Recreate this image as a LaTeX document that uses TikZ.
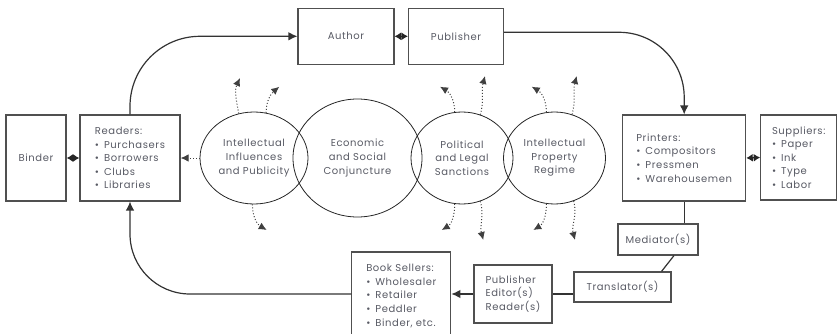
\documentclass[tikz,border=0pt]{standalone}
\usepackage{fontspec}
\setmainfont{Poppins}[LetterSpace=6]
\usetikzlibrary{shapes.geometric,arrows.meta}
\definecolor{txtgray}{RGB}{88,90,100}
\definecolor{linegray}{RGB}{80,80,80}
\tikzset{
  box/.style={draw=linegray,line width=1.1pt,align=left,text=txtgray,
    font=\fontsize{10}{13.6}\selectfont,inner sep=0pt},
  circ/.style={ellipse,draw=black!85,line width=0.8pt,align=center,text=txtgray,
    font=\fontsize{10}{13.6}\selectfont,inner sep=0pt},
  flow/.style={draw=black!80,line width=1.2pt,-{Latex[length=9pt,width=8.5pt]}},
  both/.style={draw=black!85,line width=1.2pt,
    {Latex[length=6.5pt,width=8pt]}-{Latex[length=6.5pt,width=8pt]}},
  link/.style={draw=black!80,line width=1.2pt},
  infl/.style={draw=black!75,dotted,line width=1pt,-{Latex[length=8pt,width=7.5pt]}}
}
\newcommand{\itm}{\textbullet\enspace}
\begin{document}
\begin{tikzpicture}[x=1pt,y=-1pt]
\useasboundingbox (0,0) rectangle (837,334);
% the circles in the middle
\node[circ,minimum width=108,minimum height=92] (infl) at (254,158) {Intellectual\\Influences\\and Publicity};
\node[circ,minimum width=129,minimum height=118] (econ) at (357.5,158) {Economic\\and Social\\Conjuncture};
\node[circ,minimum width=102,minimum height=92] (polit) at (462,158) {Political\\and Legal\\Sanctions};
\node[circ,minimum width=102,minimum height=92] (prop) at (554.5,158) {Intellectual\\Property\\Regime};
% boxes
\node[box,minimum width=60,minimum height=86,align=center] (binder) at (36,158) {Binder};
\node[box,minimum width=100,minimum height=86] (readers) at (130,158) {Readers:\\\itm Purchasers\\\itm Borrowers\\\itm Clubs\\\itm Libraries};
\node[box,minimum width=96,minimum height=56,align=center] (author) at (346,36.3) {Author};
\node[box,minimum width=95,minimum height=56,align=center] (publisher) at (456,36.3) {Publisher};
\node[box,minimum width=123,minimum height=86] (printers) at (684.2,158) {Printers:\\\itm Compositors\\\itm Pressmen\\\itm Warehousemen};
\node[box,minimum width=76,minimum height=85] (suppliers) at (798.7,157.5) {Suppliers:\\\itm Paper\\\itm Ink\\\itm Type\\\itm Labor};
\node[box,minimum width=80,minimum height=31,align=center] (mediator) at (658,239.5) {Mediator(s)};
\node[box,minimum width=97,minimum height=30,align=center] (translator) at (622.5,287) {Translator(s)};
\node[box,minimum width=78,minimum height=58] (editors) at (513,294) {Publisher\\Editor(s)\\Reader(s)};
\node[box,minimum width=99,minimum height=88] (sellers) at (401.3,296) {Book Sellers:\\\itm Wholesaler\\\itm Retailer\\\itm Peddler\\\itm Binder, etc.};
% main cycle
\draw[flow,rounded corners=70pt] (readers.north) |- (author.west);
\draw[both] (author.east) -- (publisher.west);
\draw[flow,rounded corners=65pt] ([yshift=4pt]publisher.east) -| (printers.north);
\draw[both] (printers.east) -- (suppliers.west);
\draw[link] (printers.south) -- (printers.south |- mediator.north);
\draw[link] ([xshift=16pt]mediator.south) -- ([xshift=39pt]translator.north);
\draw[link] (editors.east -| translator.west) -- (editors.east);
\draw[flow] (editors.west) -- (editors.west -| sellers.east);
\draw[flow,rounded corners=60pt] ([yshift=2pt]sellers.west) -| (readers.south);
\draw[both] (binder.east) -- (readers.west);
% influences
\coordinate (i1) at (240,78);
\coordinate (i2) at (279.3,86.7);
\coordinate (i3) at (266.7,230);
\coordinate (p1) at (440,86.7);
\coordinate (p2) at (485,76);
\coordinate (p3) at (441.7,230);
\coordinate (p4) at (483.3,240);
\coordinate (r1) at (531.7,86.7);
\coordinate (r2) at (576.7,76);
\coordinate (r3) at (533.3,230);
\coordinate (r4) at (575,240);
\draw[infl] (infl.west) -- (readers.east);
\draw[infl] (infl.109) to[out=100,in=-115] (i1);
\draw[infl] (infl.75) to[out=90,in=-140] (i2);
\draw[infl] (infl.-92) to[out=-90,in=150] (i3);
\draw[infl] (polit.99) to[out=90,in=-30] (p1);
\draw[infl] (polit.67) to[out=75,in=-105] (p2);
\draw[infl] (polit.-99) to[out=-90,in=30] (p3);
\draw[infl] (polit.-67) to[out=-75,in=105] (p4);
\draw[infl] (prop.100) to[out=90,in=-30] (r1);
\draw[infl] (prop.68) to[out=75,in=-105] (r2);
\draw[infl] (prop.-100) to[out=-90,in=30] (r3);
\draw[infl] (prop.-66) to[out=-75,in=105] (r4);
\end{tikzpicture}
\end{document}
